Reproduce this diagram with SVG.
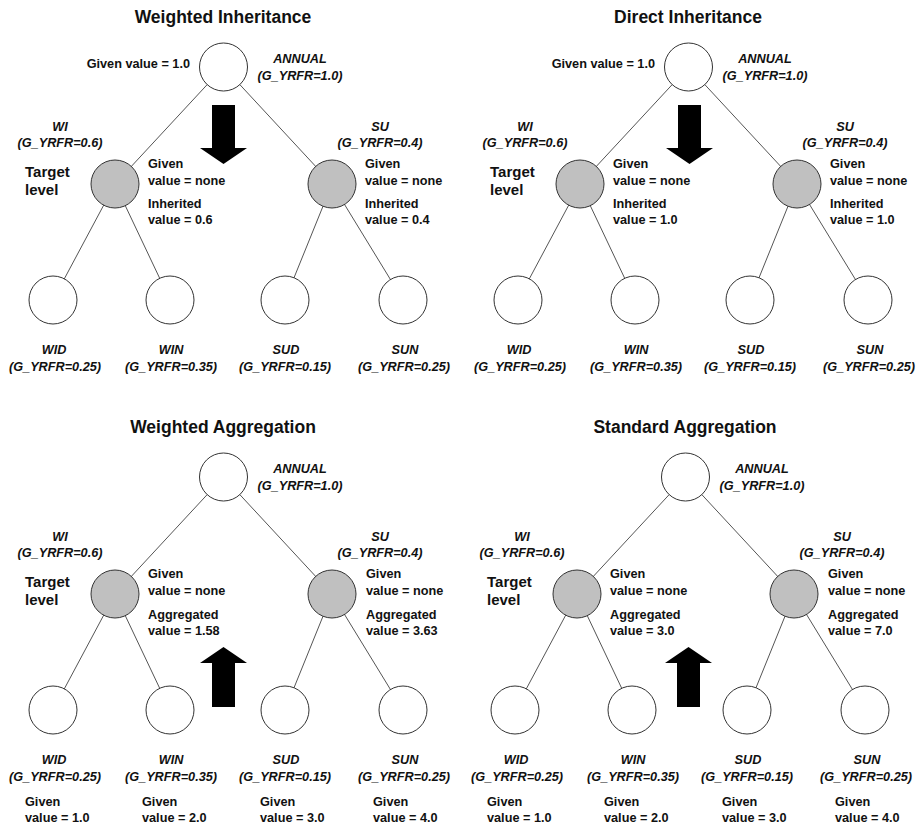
<svg xmlns="http://www.w3.org/2000/svg" width="919" height="827" viewBox="0 0 919 827">
<style>
text{font-family:"Liberation Sans",Arial,sans-serif;font-weight:bold;font-size:12.7px;fill:#111}
.title{font-size:17.5px;text-anchor:middle}
.lbl{font-style:italic;text-anchor:middle}
.tgt{font-size:15px}
.end{text-anchor:end}
.edge{stroke:#555;stroke-width:1;fill:none}
.w{fill:#fff;stroke:#333;stroke-width:1}
.g{fill:#c0c0c0;stroke:#333;stroke-width:1}
.arrow{fill:#000}
</style>
<rect width="919" height="827" fill="#fff"/>

<!-- ===== Panel 1: Weighted Inheritance ===== -->
<g id="panel-weighted-inheritance">
<text class="title" x="223" y="23">Weighted Inheritance</text>
<g id="p1-connectors">
<line class="edge" x1="223.5" y1="67" x2="115" y2="184"/>
<line class="edge" x1="223.5" y1="67" x2="332" y2="184"/>
<line class="edge" x1="115" y1="184" x2="53" y2="300"/>
<line class="edge" x1="115" y1="184" x2="170" y2="300"/>
<line class="edge" x1="332" y1="184" x2="285" y2="300"/>
<line class="edge" x1="332" y1="184" x2="403" y2="300"/>
</g>
<polygon id="p1-arrow" class="arrow" points="212,105 235,105 235,148 247,148 223.5,164 200,148 212,148"/>
<g id="p1-annual">
<circle class="w" cx="223.5" cy="67" r="24"/>
<text class="end" x="190" y="68">Given value = 1.0</text>
<text class="lbl" x="300" y="63">ANNUAL</text>
<text class="lbl" x="300" y="80">(G_YRFR=1.0)</text>
</g>
<g id="p1-wi">
<circle class="g" cx="115" cy="184" r="24"/>
<text class="lbl" x="60" y="131">WI</text>
<text class="lbl" x="60" y="147">(G_YRFR=0.6)</text>
<text class="tgt" x="25" y="177">Target</text>
<text class="tgt" x="25" y="195">level</text>
<text x="148" y="168">Given</text>
<text x="148" y="185">value = none</text>
<text x="148" y="208">Inherited</text>
<text x="148" y="224">value = 0.6</text>
</g>
<g id="p1-su">
<circle class="g" cx="332" cy="184" r="24"/>
<text class="lbl" x="380" y="131">SU</text>
<text class="lbl" x="380" y="147">(G_YRFR=0.4)</text>
<text x="365" y="168">Given</text>
<text x="365" y="185">value = none</text>
<text x="365" y="208">Inherited</text>
<text x="365" y="224">value = 0.4</text>
</g>
<g id="p1-wid">
<circle class="w" cx="53" cy="300" r="24"/>
<text class="lbl" x="54" y="354">WID</text>
<text class="lbl" x="55" y="371">(G_YRFR=0.25)</text>
</g>
<g id="p1-win">
<circle class="w" cx="170" cy="300" r="24"/>
<text class="lbl" x="171" y="354">WIN</text>
<text class="lbl" x="171" y="371">(G_YRFR=0.35)</text>
</g>
<g id="p1-sud">
<circle class="w" cx="285" cy="300" r="24"/>
<text class="lbl" x="286" y="354">SUD</text>
<text class="lbl" x="285" y="371">(G_YRFR=0.15)</text>
</g>
<g id="p1-sun">
<circle class="w" cx="403" cy="300" r="24"/>
<text class="lbl" x="405" y="354">SUN</text>
<text class="lbl" x="404" y="371">(G_YRFR=0.25)</text>
</g>
</g>

<!-- ===== Panel 2: Direct Inheritance ===== -->
<g id="panel-direct-inheritance" transform="translate(465,0)">
<text class="title" x="223" y="23">Direct Inheritance</text>
<g id="p2-connectors">
<line class="edge" x1="223.5" y1="67" x2="115" y2="184"/>
<line class="edge" x1="223.5" y1="67" x2="332" y2="184"/>
<line class="edge" x1="115" y1="184" x2="53" y2="300"/>
<line class="edge" x1="115" y1="184" x2="170" y2="300"/>
<line class="edge" x1="332" y1="184" x2="285" y2="300"/>
<line class="edge" x1="332" y1="184" x2="403" y2="300"/>
</g>
<polygon id="p2-arrow" class="arrow" points="213,105 236,105 236,148 248,148 224.5,164 201,148 213,148"/>
<g id="p2-annual">
<circle class="w" cx="223.5" cy="67" r="24"/>
<text class="end" x="190" y="68">Given value = 1.0</text>
<text class="lbl" x="300" y="63">ANNUAL</text>
<text class="lbl" x="300" y="80">(G_YRFR=1.0)</text>
</g>
<g id="p2-wi">
<circle class="g" cx="115" cy="184" r="24"/>
<text class="lbl" x="60" y="131">WI</text>
<text class="lbl" x="60" y="147">(G_YRFR=0.6)</text>
<text class="tgt" x="25" y="177">Target</text>
<text class="tgt" x="25" y="195">level</text>
<text x="148" y="168">Given</text>
<text x="148" y="185">value = none</text>
<text x="148" y="208">Inherited</text>
<text x="148" y="224">value = 1.0</text>
</g>
<g id="p2-su">
<circle class="g" cx="332" cy="184" r="24"/>
<text class="lbl" x="380" y="131">SU</text>
<text class="lbl" x="380" y="147">(G_YRFR=0.4)</text>
<text x="365" y="168">Given</text>
<text x="365" y="185">value = none</text>
<text x="365" y="208">Inherited</text>
<text x="365" y="224">value = 1.0</text>
</g>
<g id="p2-wid">
<circle class="w" cx="53" cy="300" r="24"/>
<text class="lbl" x="54" y="354">WID</text>
<text class="lbl" x="55" y="371">(G_YRFR=0.25)</text>
</g>
<g id="p2-win">
<circle class="w" cx="170" cy="300" r="24"/>
<text class="lbl" x="171" y="354">WIN</text>
<text class="lbl" x="171" y="371">(G_YRFR=0.35)</text>
</g>
<g id="p2-sud">
<circle class="w" cx="285" cy="300" r="24"/>
<text class="lbl" x="286" y="354">SUD</text>
<text class="lbl" x="285" y="371">(G_YRFR=0.15)</text>
</g>
<g id="p2-sun">
<circle class="w" cx="403" cy="300" r="24"/>
<text class="lbl" x="405" y="354">SUN</text>
<text class="lbl" x="404" y="371">(G_YRFR=0.25)</text>
</g>
</g>

<!-- ===== Panel 3: Weighted Aggregation ===== -->
<g id="panel-weighted-aggregation" transform="translate(0,410)">
<text class="title" x="223" y="23">Weighted Aggregation</text>
<g id="p3-connectors">
<line class="edge" x1="223.5" y1="67" x2="115" y2="184"/>
<line class="edge" x1="223.5" y1="67" x2="332" y2="184"/>
<line class="edge" x1="115" y1="184" x2="53" y2="300"/>
<line class="edge" x1="115" y1="184" x2="170" y2="300"/>
<line class="edge" x1="332" y1="184" x2="285" y2="300"/>
<line class="edge" x1="332" y1="184" x2="403" y2="300"/>
</g>
<polygon id="p3-arrow" class="arrow" points="223.5,237 247,253 235,253 235,297 212,297 212,253 200,253"/>
<g id="p3-annual">
<circle class="w" cx="223.5" cy="67" r="24"/>
<text class="lbl" x="300" y="63">ANNUAL</text>
<text class="lbl" x="300" y="80">(G_YRFR=1.0)</text>
</g>
<g id="p3-wi">
<circle class="g" cx="115" cy="184" r="24"/>
<text class="lbl" x="60" y="131">WI</text>
<text class="lbl" x="60" y="147">(G_YRFR=0.6)</text>
<text class="tgt" x="25" y="177">Target</text>
<text class="tgt" x="25" y="195">level</text>
<text x="148" y="168">Given</text>
<text x="148" y="185">value = none</text>
<text x="148" y="209">Aggregated</text>
<text x="148" y="225">value = 1.58</text>
</g>
<g id="p3-su">
<circle class="g" cx="332" cy="184" r="24"/>
<text class="lbl" x="380" y="131">SU</text>
<text class="lbl" x="380" y="147">(G_YRFR=0.4)</text>
<text x="366" y="168">Given</text>
<text x="366" y="185">value = none</text>
<text x="366" y="209">Aggregated</text>
<text x="366" y="225">value = 3.63</text>
</g>
<g id="p3-wid">
<circle class="w" cx="53" cy="300" r="24"/>
<text class="lbl" x="54" y="354">WID</text>
<text class="lbl" x="55" y="371">(G_YRFR=0.25)</text>
<text x="25" y="396">Given</text>
<text x="25" y="412">value = 1.0</text>
</g>
<g id="p3-win">
<circle class="w" cx="170" cy="300" r="24"/>
<text class="lbl" x="171" y="354">WIN</text>
<text class="lbl" x="171" y="371">(G_YRFR=0.35)</text>
<text x="142" y="396">Given</text>
<text x="142" y="412">value = 2.0</text>
</g>
<g id="p3-sud">
<circle class="w" cx="285" cy="300" r="24"/>
<text class="lbl" x="286" y="354">SUD</text>
<text class="lbl" x="285" y="371">(G_YRFR=0.15)</text>
<text x="260" y="396">Given</text>
<text x="260" y="412">value = 3.0</text>
</g>
<g id="p3-sun">
<circle class="w" cx="403" cy="300" r="24"/>
<text class="lbl" x="405" y="354">SUN</text>
<text class="lbl" x="404" y="371">(G_YRFR=0.25)</text>
<text x="373" y="396">Given</text>
<text x="373" y="412">value = 4.0</text>
</g>
</g>

<!-- ===== Panel 4: Standard Aggregation ===== -->
<g id="panel-standard-aggregation" transform="translate(462,410)">
<text class="title" x="223" y="23">Standard Aggregation</text>
<g id="p4-connectors">
<line class="edge" x1="223.5" y1="67" x2="115" y2="184"/>
<line class="edge" x1="223.5" y1="67" x2="332" y2="184"/>
<line class="edge" x1="115" y1="184" x2="53" y2="300"/>
<line class="edge" x1="115" y1="184" x2="170" y2="300"/>
<line class="edge" x1="332" y1="184" x2="285" y2="300"/>
<line class="edge" x1="332" y1="184" x2="403" y2="300"/>
</g>
<polygon id="p4-arrow" class="arrow" points="226.5,237 250,253 238,253 238,297 215,297 215,253 203,253"/>
<g id="p4-annual">
<circle class="w" cx="223.5" cy="67" r="24"/>
<text class="lbl" x="300" y="63">ANNUAL</text>
<text class="lbl" x="300" y="80">(G_YRFR=1.0)</text>
</g>
<g id="p4-wi">
<circle class="g" cx="115" cy="184" r="24"/>
<text class="lbl" x="60" y="131">WI</text>
<text class="lbl" x="60" y="147">(G_YRFR=0.6)</text>
<text class="tgt" x="25" y="177">Target</text>
<text class="tgt" x="25" y="195">level</text>
<text x="148" y="168">Given</text>
<text x="148" y="185">value = none</text>
<text x="148" y="209">Aggregated</text>
<text x="148" y="225">value = 3.0</text>
</g>
<g id="p4-su">
<circle class="g" cx="332" cy="184" r="24"/>
<text class="lbl" x="380" y="131">SU</text>
<text class="lbl" x="380" y="147">(G_YRFR=0.4)</text>
<text x="366" y="168">Given</text>
<text x="366" y="185">value = none</text>
<text x="366" y="209">Aggregated</text>
<text x="366" y="225">value = 7.0</text>
</g>
<g id="p4-wid">
<circle class="w" cx="53" cy="300" r="24"/>
<text class="lbl" x="54" y="354">WID</text>
<text class="lbl" x="55" y="371">(G_YRFR=0.25)</text>
<text x="25" y="396">Given</text>
<text x="25" y="412">value = 1.0</text>
</g>
<g id="p4-win">
<circle class="w" cx="170" cy="300" r="24"/>
<text class="lbl" x="171" y="354">WIN</text>
<text class="lbl" x="171" y="371">(G_YRFR=0.35)</text>
<text x="142" y="396">Given</text>
<text x="142" y="412">value = 2.0</text>
</g>
<g id="p4-sud">
<circle class="w" cx="285" cy="300" r="24"/>
<text class="lbl" x="286" y="354">SUD</text>
<text class="lbl" x="285" y="371">(G_YRFR=0.15)</text>
<text x="260" y="396">Given</text>
<text x="260" y="412">value = 3.0</text>
</g>
<g id="p4-sun">
<circle class="w" cx="403" cy="300" r="24"/>
<text class="lbl" x="405" y="354">SUN</text>
<text class="lbl" x="404" y="371">(G_YRFR=0.25)</text>
<text x="373" y="396">Given</text>
<text x="373" y="412">value = 4.0</text>
</g>
</g>
</svg>
